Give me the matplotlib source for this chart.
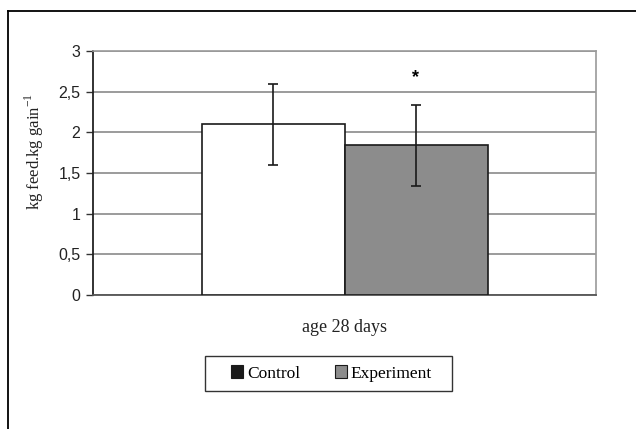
import numpy as np
import matplotlib
matplotlib.use("Agg")
import matplotlib.pyplot as plt
from matplotlib.lines import Line2D
from matplotlib.patches import Patch, Rectangle

# data
groups = ["Control", "Experiment"]
values = [2.10, 1.84]
errors = [0.50, 0.50]
category = "age 28 days"
y_ticks = [0, 0.5, 1, 1.5, 2, 2.5, 3]
y_tick_labels = ["0", "0,5", "1", "1,5", "2", "2,5", "3"]
star_level = 2.67

bar_colors = ["white", "#8c8c8c"]
legend_colors = ["#1a1a1a", "#8c8c8c"]
W, H = 636, 429

fig = plt.figure(figsize=(W / 100, H / 100), dpi=100)
ax = fig.add_axes([93 / W, 1 - 295 / H, (596 - 93) / W, (295 - 51) / H])

# outer frame (only left/top visible in the crop)
fig.add_artist(Line2D([8 / W, 8 / W], [0, 1 - 11 / H], transform=fig.transFigure,
                      color="black", lw=1.3))
fig.add_artist(Line2D([8 / W, 1], [1 - 11 / H, 1 - 11 / H], transform=fig.transFigure,
                      color="black", lw=1.3))

# bars placed side by side around the single category
bar_w = 143 / 503
x = np.array([-0.5, 0.5]) * bar_w
ax.bar(x, values, width=bar_w, color=bar_colors, edgecolor="#1a1a1a",
       linewidth=1.2, zorder=3)
ax.errorbar(x, values, yerr=errors, fmt="none", ecolor="#1a1a1a",
            elinewidth=1.2, capsize=3.6, capthick=1.2, zorder=4)
ax.text(x[1], star_level, "*", ha="center", va="center", fontsize=13,
        fontweight="bold", family="Liberation Sans", zorder=5)

ax.set_xlim(-0.5, 0.5)
ax.set_ylim(0, 3)
ax.set_yticks(y_ticks)
ax.set_yticklabels(y_tick_labels, family="Liberation Sans", fontsize=11.5,
                   color="#222222")
ax.set_xticks([])
ax.yaxis.grid(True, color="#8a8a8a", linewidth=1.2, zorder=0)
ax.set_axisbelow(True)
ax.tick_params(axis="y", direction="out", length=5, width=1, color="#333333", pad=4)

for side in ["top", "right"]:
    ax.spines[side].set_color("#9a9a9a")
    ax.spines[side].set_linewidth(1.2)
ax.spines["left"].set_color("#222222")
ax.spines["left"].set_linewidth(1.3)
ax.spines["bottom"].set_color("#555555")
ax.spines["bottom"].set_linewidth(1.3)

fig.text(344 / W, 1 - 327 / H, category, ha="center", va="center",
         family="Liberation Serif", fontsize=13, color="#222222")
fig.text(34 / W, 1 - 152 / H, r"kg feed.kg gain$^{\mathregular{-1}}$", rotation=90,
         ha="center", va="center", family="Liberation Serif", fontsize=12,
         color="#222222")

# legend box drawn separately so its padding matches the reference
fig.add_artist(Rectangle((205 / W, 1 - 391 / H), (452 - 205) / W, (391 - 356) / H,
                         transform=fig.transFigure, facecolor="white",
                         edgecolor="#333333", linewidth=1.0))
handles = [Patch(facecolor=c, edgecolor="#1a1a1a", linewidth=0.8) for c in legend_colors]
fig.legend(handles, groups, loc="center", ncol=2,
           bbox_to_anchor=(331.5 / W, 1 - 373.5 / H),
           prop={"family": "Liberation Serif", "size": 12.5},
           handlelength=0.7, handleheight=0.7, handletextpad=0.2,
           columnspacing=2.0, borderpad=0.3, borderaxespad=0, frameon=False)

fig.savefig("out.png", dpi=100)
